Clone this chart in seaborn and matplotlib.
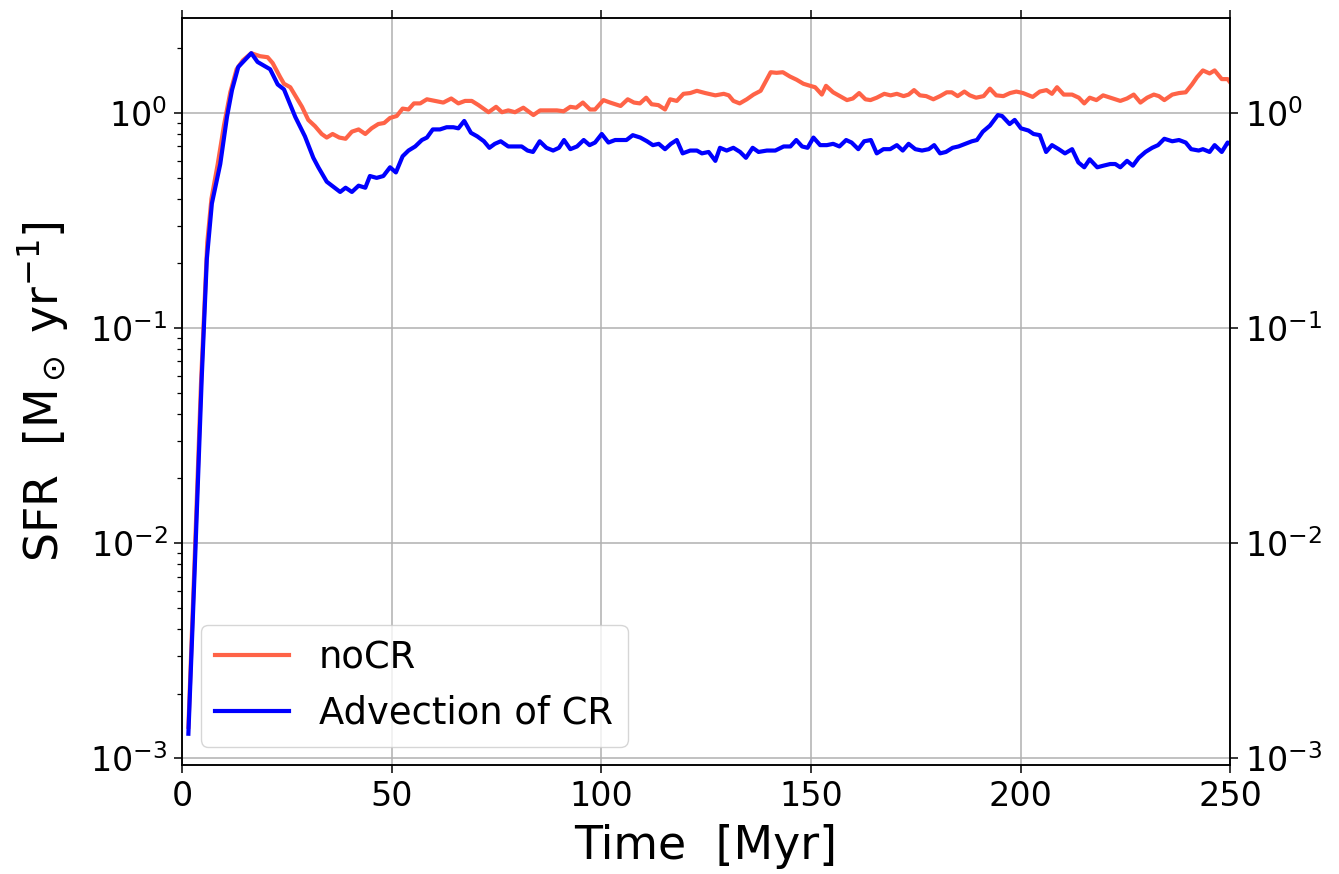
import numpy as np
import pandas as pd
import matplotlib
matplotlib.use("Agg")
import matplotlib.pyplot as plt
from matplotlib.ticker import LogLocator, NullLocator
import seaborn as sns

# Star formation rate, time in Myr
nocr_time = [
    1.5, 3.0, 4.5, 6.0, 7.0, 8.5, 10.0, 11.5, 13.0, 14.5,
    16.5, 18.6, 20.4, 21.6, 23.4, 24.3, 25.8, 27.4, 28.6, 30.1,
    31.7, 33.3, 34.5, 35.9, 37.5, 39.0, 40.5, 42.1, 43.7, 45.2,
    46.8, 48.2, 49.6, 51.2, 52.6, 54.0, 55.3, 56.8, 58.4, 60.4,
    62.3, 64.2, 65.9, 67.5, 69.1, 70.7, 73.1, 74.9, 76.3, 77.8,
    79.4, 81.4, 83.8, 85.4, 87.4, 89.4, 91.0, 92.6, 94.0, 95.6,
    97.3, 98.5, 100.5, 102.1, 104.6, 106.3, 107.8, 109.2, 110.7, 112.0,
    113.6, 115.2, 116.4, 118.0, 119.6, 121.2, 122.8, 124.8, 127.2, 129.2,
    130.4, 131.5, 133.0, 134.7, 136.3, 138.0, 139.0, 140.4, 141.8, 143.3,
    145.0, 146.6, 148.2, 149.8, 151.0, 152.6, 153.6, 155.3, 156.9, 158.6,
    160.0, 161.5, 163.0, 164.2, 165.7, 167.5, 169.0, 170.5, 172.1, 173.3,
    174.6, 176.0, 177.5, 179.2, 180.8, 182.4, 183.6, 185.0, 186.6, 187.9,
    189.4, 191.2, 192.7, 194.2, 195.9, 197.5, 199.0, 200.6, 202.9, 204.6,
    206.2, 207.5, 208.7, 210.3, 212.3, 213.9, 215.2, 216.5, 218.1, 219.7,
    221.4, 223.8, 225.4, 227.0, 228.6, 230.2, 231.8, 233.0, 234.3, 236.2,
    237.8, 239.4, 240.9, 242.1, 243.5, 245.1, 246.3, 248.0, 249.4, 250.0,
]
nocr_sfr = [
    0.0014, 0.0085, 0.055, 0.25, 0.40, 0.58, 0.88, 1.25, 1.60, 1.76,
    1.90, 1.84, 1.82, 1.71, 1.47, 1.37, 1.32, 1.17, 1.07, 0.93,
    0.87, 0.80, 0.77, 0.80, 0.77, 0.76, 0.82, 0.84, 0.80, 0.85,
    0.89, 0.90, 0.95, 0.97, 1.05, 1.04, 1.11, 1.11, 1.16, 1.14,
    1.12, 1.17, 1.11, 1.14, 1.14, 1.09, 1.01, 1.07, 1.01, 1.03,
    1.01, 1.06, 0.98, 1.03, 1.03, 1.03, 1.02, 1.07, 1.06, 1.12,
    1.04, 1.04, 1.15, 1.12, 1.08, 1.16, 1.12, 1.11, 1.18, 1.10,
    1.09, 1.04, 1.16, 1.14, 1.23, 1.24, 1.27, 1.24, 1.21, 1.23,
    1.21, 1.14, 1.11, 1.16, 1.22, 1.27, 1.38, 1.55, 1.54, 1.55,
    1.48, 1.43, 1.37, 1.34, 1.32, 1.22, 1.34, 1.25, 1.20, 1.15,
    1.17, 1.24, 1.16, 1.15, 1.18, 1.23, 1.21, 1.23, 1.20, 1.22,
    1.28, 1.21, 1.20, 1.16, 1.20, 1.25, 1.25, 1.20, 1.26, 1.21,
    1.18, 1.20, 1.30, 1.21, 1.20, 1.24, 1.26, 1.24, 1.19, 1.26,
    1.28, 1.23, 1.32, 1.22, 1.22, 1.18, 1.11, 1.18, 1.15, 1.21,
    1.18, 1.14, 1.17, 1.22, 1.12, 1.18, 1.22, 1.20, 1.15, 1.22,
    1.24, 1.25, 1.36, 1.47, 1.58, 1.53, 1.58, 1.44, 1.44, 1.39,
]

adv_time = [
    1.5, 3.0, 4.7, 5.9, 7.1, 9.1, 10.7, 11.9, 13.4, 16.5,
    18.0, 21.0, 22.8, 24.3, 27.0, 29.3, 31.3, 32.5, 34.5, 37.7,
    39.0, 40.5, 42.1, 43.7, 44.8, 46.4, 48.0, 49.6, 51.0, 52.6,
    54.0, 55.6, 57.2, 58.4, 59.8, 61.5, 63.1, 64.7, 65.9, 67.3,
    68.9, 70.4, 72.0, 73.3, 74.6, 76.0, 77.8, 79.6, 81.0, 82.4,
    83.7, 85.3, 86.9, 88.5, 89.9, 91.1, 92.6, 94.2, 95.8, 97.2,
    98.5, 100.1, 101.7, 103.3, 106.0, 107.5, 109.3, 110.9, 112.3, 113.7,
    115.2, 116.6, 118.0, 119.4, 121.2, 122.8, 124.0, 125.6, 127.2, 128.3,
    129.9, 131.5, 133.1, 134.5, 136.1, 137.5, 139.5, 141.5, 143.5, 145.1,
    146.5, 147.9, 149.2, 150.6, 152.2, 153.8, 155.3, 156.8, 158.4, 159.7,
    161.3, 162.7, 164.3, 165.7, 167.3, 168.9, 170.5, 171.9, 173.3, 174.9,
    176.5, 178.1, 179.4, 180.8, 182.2, 183.8, 185.2, 186.8, 188.4, 189.6,
    191.0, 192.7, 194.6, 195.6, 197.4, 198.6, 200.1, 201.9, 203.1, 204.6,
    206.1, 207.5, 209.1, 210.6, 212.3, 213.8, 215.2, 216.5, 218.3, 219.8,
    221.4, 222.6, 223.8, 225.4, 226.8, 228.2, 229.8, 231.4, 232.8, 234.3,
    236.2, 237.8, 239.4, 240.7, 242.5, 243.5, 245.1, 246.3, 248.0, 249.4,
    250.0,
]
adv_sfr = [
    0.0013, 0.0075, 0.060, 0.21, 0.38, 0.58, 0.96, 1.28, 1.64, 1.90,
    1.73, 1.60, 1.36, 1.29, 0.96, 0.78, 0.62, 0.56, 0.48, 0.43,
    0.45, 0.43, 0.46, 0.45, 0.51, 0.50, 0.51, 0.56, 0.53, 0.63,
    0.67, 0.70, 0.75, 0.77, 0.84, 0.84, 0.86, 0.86, 0.85, 0.92,
    0.81, 0.78, 0.74, 0.69, 0.72, 0.74, 0.70, 0.70, 0.70, 0.67,
    0.66, 0.74, 0.69, 0.67, 0.69, 0.75, 0.68, 0.70, 0.75, 0.71,
    0.73, 0.80, 0.73, 0.75, 0.75, 0.79, 0.77, 0.74, 0.71, 0.72,
    0.68, 0.72, 0.75, 0.65, 0.67, 0.67, 0.65, 0.66, 0.60, 0.69,
    0.67, 0.69, 0.66, 0.62, 0.69, 0.66, 0.67, 0.67, 0.70, 0.70,
    0.75, 0.70, 0.69, 0.77, 0.71, 0.71, 0.72, 0.70, 0.75, 0.73,
    0.68, 0.74, 0.75, 0.65, 0.68, 0.68, 0.71, 0.67, 0.72, 0.68,
    0.67, 0.68, 0.71, 0.65, 0.66, 0.69, 0.70, 0.72, 0.74, 0.75,
    0.82, 0.875, 0.98, 0.97, 0.89, 0.93, 0.85, 0.83, 0.80, 0.79,
    0.66, 0.71, 0.68, 0.65, 0.68, 0.59, 0.56, 0.61, 0.56, 0.57,
    0.58, 0.58, 0.56, 0.60, 0.57, 0.62, 0.66, 0.69, 0.71, 0.76,
    0.74, 0.75, 0.73, 0.68, 0.67, 0.68, 0.66, 0.71, 0.66, 0.73,
    0.72,
]

labels = ["noCR", "Advection of CR"]
colors = ["tomato", "blue"]

plt.rcParams.update({
    "axes.linewidth": 1.1,
    "xtick.major.size": 5.5,
    "ytick.major.size": 5.5,
    "xtick.minor.size": 3.5,
    "ytick.minor.size": 3.5,
    "xtick.major.width": 1.1,
    "ytick.major.width": 1.1,
    "ytick.minor.width": 0.9,
    "xtick.major.pad": 5.5,
    "ytick.major.pad": 5.0,
})

fig = plt.figure(figsize=(13.39, 8.74), dpi=100)
ax = fig.add_axes([0.136, 0.1247, 0.7827, 0.8547])

sns.lineplot(x=nocr_time, y=nocr_sfr, ax=ax, color=colors[0], lw=3.0, label=labels[0])
sns.lineplot(x=adv_time, y=adv_sfr, ax=ax, color=colors[1], lw=3.0, label=labels[1])

ax.set_yscale("log")
ax.set_xlim(0, 250)
ax.set_ylim(9.3e-4, 2.77)
ax.set_xticks([0, 50, 100, 150, 200, 250])
ax.grid(True, which="major", color="#b0b0b0", lw=1.1)
ax.tick_params(axis="both", which="major", labelsize=24)
ax.tick_params(axis="x", top=True)
ax.set_xlabel("Time  [Myr]", fontsize=33, labelpad=8)
ax.set_ylabel(r"SFR  [M$_\odot$ yr$^{-1}$]", fontsize=33, labelpad=14)
ax.legend(loc="lower left", fontsize=26.6)

# right-hand axis repeats the log labels, major ticks only
ax2 = ax.twinx()
ax2.set_yscale("log")
ax2.set_ylim(ax.get_ylim())
ax2.yaxis.set_major_locator(LogLocator(base=10))
ax2.yaxis.set_minor_locator(NullLocator())
ax2.tick_params(axis="y", which="major", labelsize=24)

fig.savefig("out.png", dpi=100)
